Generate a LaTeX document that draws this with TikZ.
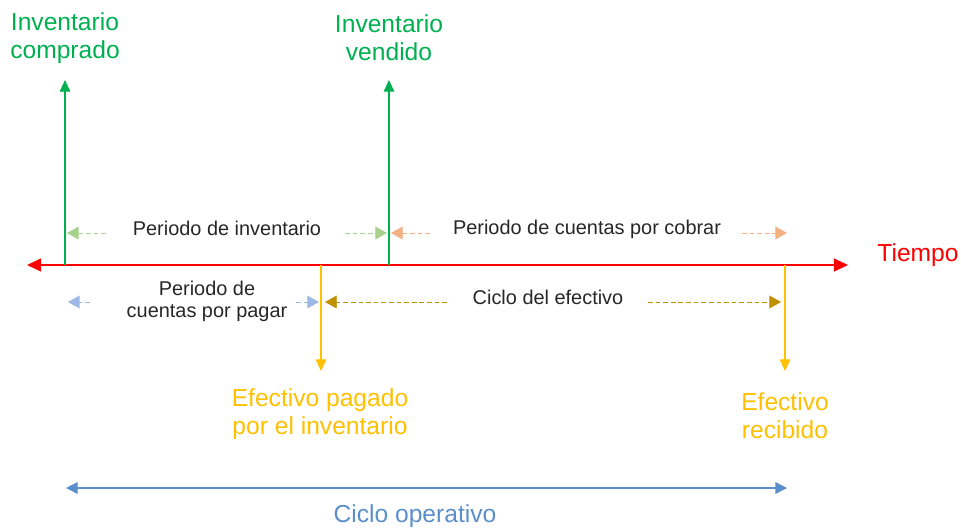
\documentclass[tikz,border=0pt]{standalone}
\usepackage{fontspec}
\setmainfont{Liberation Sans}
\usetikzlibrary{arrows.meta}
\definecolor{verde}{HTML}{00B050}
\definecolor{verdeclaro}{HTML}{A9D18E}
\definecolor{rojo}{HTML}{FF0000}
\definecolor{ambar}{HTML}{FFC000}
\definecolor{naranjaclaro}{HTML}{F4B183}
\definecolor{azulclaro}{HTML}{9DB9E6}
\definecolor{oro}{HTML}{BF9000}
\definecolor{azul}{HTML}{5B8FCB}
\definecolor{texto}{HTML}{262626}

\begin{document}
\begin{tikzpicture}[x=0.03cm,y=-0.03cm,
    evento/.style={font=\fontsize{21}{24}\selectfont, align=center, inner sep=0pt},
    periodo/.style={font=\fontsize{17}{19}\selectfont, align=center, inner sep=0pt, text=texto},
    marca/.style={line width=1.2pt, -{Triangle[length=10pt,width=9pt]}},
    tramo/.style={dash pattern=on 4pt off 2.5pt, line width=0.8pt, -{Triangle[length=10pt,width=11pt]}}]
  \useasboundingbox (0,0) rectangle (961,528);

  % eje del tiempo
  \coordinate (t0) at (27,265);
  \coordinate (t1) at (848,265);
  \coordinate (compra) at (65,265);
  \coordinate (venta) at (389,265);
  \coordinate (pago) at (321,265);
  \coordinate (cobro) at (785,265);
  \draw[rojo, line width=1.3pt, {Triangle[length=12pt,width=11pt]}-{Triangle[length=12pt,width=11pt]}] (t0) -- (t1);
  \node[evento, text=rojo] (tiempo) at (918,255) {Tiempo};

  % eventos
  \node[evento, text=verde] (comprado) at (65,38) {Inventario\\comprado};
  \node[evento, text=verde] (vendido) at (389,38) {Inventario\\vendido};
  \node[evento, text=ambar] (pagado) at (320,414) {Efectivo pagado\\por el inventario};
  \node[evento, text=ambar] (recibido) at (785,416) {Efectivo\\recibido};
  \coordinate (comprado-p) at (65,80);
  \coordinate (vendido-p) at (389,80);
  \coordinate (pagado-p) at (321,371);
  \coordinate (recibido-p) at (785,371);
  \draw[marca, verde] (compra) -- (comprado-p);
  \draw[marca, verde] (venta) -- (vendido-p);
  \draw[marca, ambar] (pago) -- (pagado-p);
  \draw[marca, ambar] (cobro) -- (recibido-p);

  % periodos
  \node[periodo] (inventario) at (227,228) {Periodo de inventario};
  \node[periodo] (cobrar) at (587,229) {Periodo de cuentas por cobrar};
  \node[periodo] (pagar) at (207,301) {Periodo de\\cuentas por pagar};
  \node[periodo] (efectivo) at (548,297) {Ciclo del efectivo};

  \coordinate (inv-a) at (106,233);  \coordinate (inv-b) at (67,233);
  \coordinate (inv-c) at (345,233);  \coordinate (inv-d) at (387,233);
  \coordinate (cob-a) at (430,233);  \coordinate (cob-b) at (391,233);
  \coordinate (cob-c) at (742,233);  \coordinate (cob-d) at (787,233);
  \coordinate (pag-a) at (90,302);   \coordinate (pag-b) at (68,302);
  \coordinate (pag-c) at (296,302);  \coordinate (pag-d) at (319,302);
  \coordinate (efe-a) at (447,302);  \coordinate (efe-b) at (325,302);
  \coordinate (efe-c) at (648,302);  \coordinate (efe-d) at (781,302);
  \draw[tramo, verdeclaro] (inv-a) -- (inv-b);
  \draw[tramo, verdeclaro] (inv-c) -- (inv-d);
  \draw[tramo, naranjaclaro] (cob-a) -- (cob-b);
  \draw[tramo, naranjaclaro] (cob-c) -- (cob-d);
  \draw[tramo, azulclaro] (pag-a) -- (pag-b);
  \draw[tramo, azulclaro] (pag-c) -- (pag-d);
  \draw[tramo, oro] (efe-a) -- (efe-b);
  \draw[tramo, oro] (efe-c) -- (efe-d);

  % ciclo operativo
  \coordinate (op0) at (66,488);
  \coordinate (op1) at (787,488);
  \draw[azul, line width=1.2pt, {Triangle[length=10pt,width=10pt]}-{Triangle[length=10pt,width=10pt]}] (op0) -- (op1);
  \node[evento, text=azul] (operativo) at (415,516) {Ciclo operativo};
\end{tikzpicture}
\end{document}
